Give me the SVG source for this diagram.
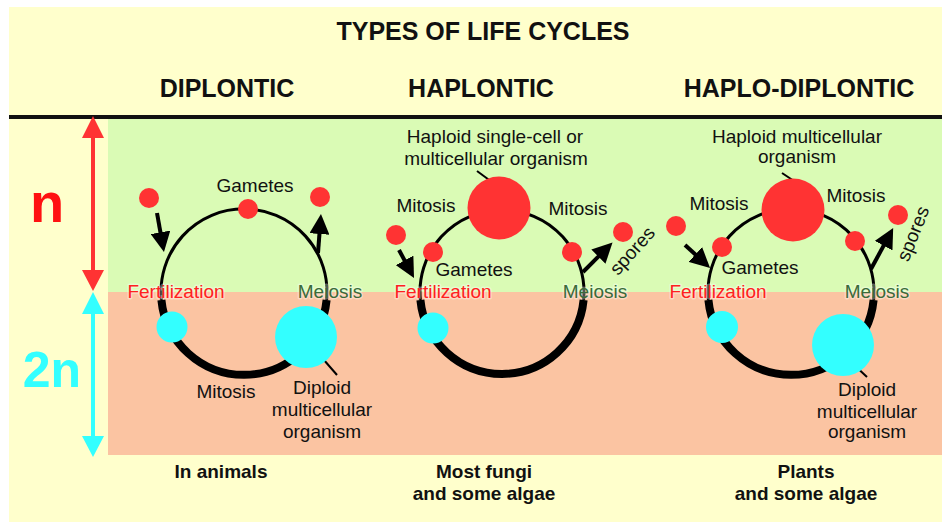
<svg xmlns="http://www.w3.org/2000/svg" width="942" height="522" viewBox="0 0 942 522">
<defs>
<style>
text{font-family:"Liberation Sans",Arial,sans-serif;}
.t{font-size:19px;fill:#111;text-anchor:middle;}
.b{font-size:19px;font-weight:bold;fill:#111;text-anchor:middle;}
.h{font-size:25px;font-weight:bold;fill:#111;text-anchor:middle;}
.fert{font-size:19px;fill:#ff2020;text-anchor:middle;stroke:#ffffff;stroke-opacity:0.35;stroke-width:3;paint-order:stroke;stroke-linejoin:round;}
.mei{font-size:19px;fill:#3a6a3a;text-anchor:middle;stroke:#ffffff;stroke-opacity:0.35;stroke-width:3;paint-order:stroke;stroke-linejoin:round;}
.red{fill:#ff3333;}
.cyan{fill:#33ffff;}
.thin{fill:none;stroke:#000;stroke-width:3;}
.thick{fill:none;stroke:#000;stroke-width:8;}
.ptr{stroke:#000;stroke-width:2;}
.arr{stroke:#000;stroke-width:4;marker-end:url(#ah);}
</style>
<marker id="ah" viewBox="0 0 10 10" markerWidth="20" markerHeight="20" markerUnits="userSpaceOnUse" refX="1" refY="5" orient="auto">
<path d="M0,0 L10,5 L0,10 Z" fill="#000"/>
</marker>
</defs>

<rect x="0" y="0" width="942" height="522" fill="#ffffff"/>
<rect x="9" y="7" width="933" height="515" fill="#ffffcc"/>
<rect x="108" y="119" width="834" height="173" fill="#dafbb5"/>
<rect x="108" y="292" width="834" height="163" fill="#fbc4a2"/>
<rect x="9" y="115" width="933" height="4" fill="#111"/>

<g id="title">
<text class="h" x="483" y="40">TYPES OF LIFE CYCLES</text>
</g>
<g id="headers">
<text class="h" x="227" y="97">DIPLONTIC</text>
<text class="h" x="481" y="97">HAPLONTIC</text>
<text class="h" x="799" y="97">HAPLO-DIPLONTIC</text>
</g>

<g id="ploidy-axis">
<path d="M91,138 L91,270 L82,270 L93,291 L104,270 L95,270 L95,138 L104,138 L93,116 L82,138 Z" fill="#ff3333"/>
<path d="M91,314 L91,436 L82,436 L93,457 L104,436 L95,436 L95,314 L104,314 L93,292 L82,314 Z" fill="#33ffff"/>
<text x="47" y="222" font-size="56" font-weight="bold" fill="#ff1111" text-anchor="middle">n</text>
<text x="52" y="387" font-size="50" font-weight="bold" fill="#33ffff" text-anchor="middle">2n</text>
</g>

<g id="connectors">
<path class="thin" d="M161.4,300 A83,83 0 1 1 326.6,300"/>
<path class="thick" d="M326.6,300 A83,83 0 0 1 161.4,300"/>
<line class="arr" x1="157" y1="213" x2="160.8" y2="234.3"/>
<line class="arr" x1="318" y1="253" x2="319.6" y2="232"/>
<line class="ptr" x1="317" y1="352" x2="337" y2="375"/>
<path class="thin" d="M420.4,300 A82,82 0 1 1 583.6,300"/>
<path class="thick" d="M583.6,300 A82,82 0 0 1 420.4,300"/>
<line class="arr" x1="399" y1="250" x2="405.5" y2="262.1"/>
<line class="arr" x1="583" y1="272" x2="599.8" y2="255.2"/>
<line class="ptr" x1="477" y1="171" x2="500" y2="188"/>
<path class="thin" d="M708.4,300 A83,83 0 1 1 873.6,300"/>
<path class="thick" d="M873.6,300 A83,83 0 0 1 708.4,300"/>
<line class="arr" x1="685" y1="245" x2="696.8" y2="255.8"/>
<line class="arr" x1="871" y1="269" x2="884.6" y2="243.9"/>
<line class="ptr" x1="782" y1="173" x2="803" y2="187"/>
<line class="ptr" x1="852" y1="363" x2="867" y2="377"/>
</g>

<g id="diplontic">
<circle class="red" cx="149" cy="198" r="10"/>
<circle class="red" cx="248" cy="209" r="10"/>
<circle class="red" cx="320" cy="197" r="10"/>
<circle class="cyan" cx="172" cy="327" r="15.5"/>
<circle class="cyan" cx="306" cy="337" r="31"/>
<text class="t" x="255" y="192">Gametes</text>
<text class="fert" x="176" y="298">Fertilization</text>
<text class="mei" x="330" y="298">Meiosis</text>
<text class="t" x="226" y="398">Mitosis</text>
<text class="t" x="322" y="394">Diploid</text>
<text class="t" x="322" y="416">multicellular</text>
<text class="t" x="322" y="438">organism</text>
<text class="b" x="221" y="478">In animals</text>
</g>

<g id="haplontic">
<circle class="red" cx="499" cy="208" r="31.5"/>
<circle class="red" cx="433" cy="252" r="10"/>
<circle class="red" cx="572" cy="252" r="10"/>
<circle class="red" cx="396" cy="235" r="10"/>
<circle class="red" cx="623" cy="232" r="10"/>
<circle class="cyan" cx="433" cy="328" r="15.5"/>
<text class="t" x="495" y="143">Haploid single-cell or</text>
<text class="t" x="496" y="165">multicellular organism</text>
<text class="t" x="426" y="212">Mitosis</text>
<text class="t" x="578" y="215">Mitosis</text>
<text class="t" x="474" y="276">Gametes</text>
<text class="t" transform="translate(637,255) rotate(-48)" x="0" y="0">spores</text>
<text class="fert" x="443" y="298">Fertilization</text>
<text class="mei" x="595" y="298">Meiosis</text>
<text class="b" x="484" y="478">Most fungi</text>
<text class="b" x="484" y="500">and some algae</text>
</g>

<g id="haplo-diplontic">
<circle class="red" cx="793" cy="210" r="31.5"/>
<circle class="red" cx="722" cy="247" r="10"/>
<circle class="red" cx="855" cy="241" r="10"/>
<circle class="red" cx="676" cy="226" r="10"/>
<circle class="red" cx="898" cy="215" r="10"/>
<circle class="cyan" cx="722" cy="327" r="16"/>
<circle class="cyan" cx="843" cy="345" r="31"/>
<text class="t" x="797" y="143">Haploid multicellular</text>
<text class="t" x="797" y="163">organism</text>
<text class="t" x="719" y="210">Mitosis</text>
<text class="t" x="856" y="202">Mitosis</text>
<text class="t" x="760" y="274">Gametes</text>
<text class="t" transform="translate(919,236) rotate(-68)" x="0" y="0">spores</text>
<text class="fert" x="718" y="298">Fertilization</text>
<text class="mei" x="877" y="298">Meiosis</text>
<text class="t" x="867" y="396">Diploid</text>
<text class="t" x="867" y="418">multicellular</text>
<text class="t" x="867" y="438">organism</text>
<text class="b" x="806" y="478">Plants</text>
<text class="b" x="806" y="500">and some algae</text>
</g>
</svg>
